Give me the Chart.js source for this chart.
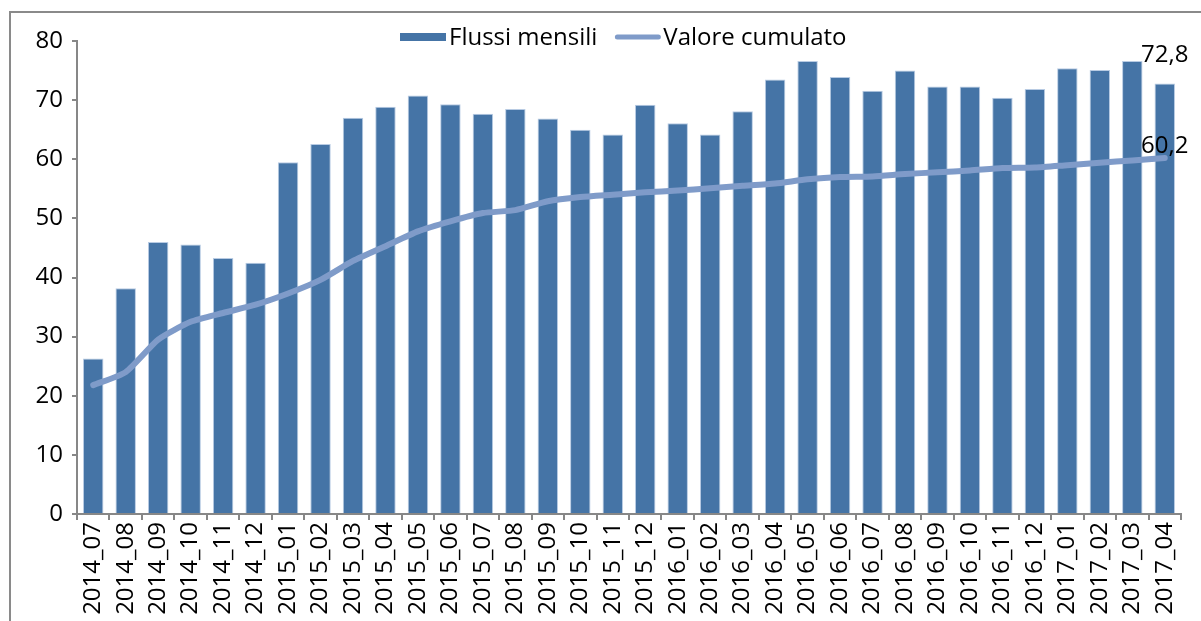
<!DOCTYPE html>
<html>
<head>
<meta charset="utf-8">
<script src="https://cdn.jsdelivr.net/npm/chart.js@4/dist/chart.umd.min.js"></script>
<style>
  html, body { margin: 0; padding: 0; background: #fff; overflow: hidden; }
  #wrap { position: relative; width: 1201px; height: 621px; }
  #frame { position: absolute; left: 9px; top: 11px; width: 1300px; height: 700px; border: 2px solid #8a8a8a; }
  canvas { position: absolute; left: 0; top: 0; }
</style>
</head>
<body>
<div id="wrap">
  <div id="frame"></div>
  <canvas id="chart" width="1201" height="621"></canvas>
</div>
<script>
// months shown on the x axis
const months = ['2014_07','2014_08','2014_09','2014_10','2014_11','2014_12',
  '2015_01','2015_02','2015_03','2015_04','2015_05','2015_06','2015_07','2015_08','2015_09','2015_10','2015_11','2015_12',
  '2016_01','2016_02','2016_03','2016_04','2016_05','2016_06','2016_07','2016_08','2016_09','2016_10','2016_11','2016_12',
  '2017_01','2017_02','2017_03','2017_04'];

const flussiMensili = [26.3, 38.2, 46.0, 45.6, 43.3, 42.5,
  59.5, 62.6, 67.0, 68.9, 70.8, 69.3, 67.7, 68.5, 66.9, 65.0, 64.2, 69.2,
  66.1, 64.2, 68.1, 73.5, 76.6, 73.9, 71.6, 75.0, 72.3, 72.3, 70.4, 71.9,
  75.4, 75.1, 76.6, 72.8];

const valoreCumulato = [21.8, 24.0, 29.5, 32.5, 34.0, 35.4,
  37.3, 39.6, 42.8, 45.3, 47.8, 49.5, 50.9, 51.4, 52.9, 53.6, 54.0, 54.4,
  54.7, 55.1, 55.5, 55.9, 56.6, 57.0, 57.1, 57.5, 57.8, 58.1, 58.5, 58.6,
  59.0, 59.4, 59.8, 60.2];

const yTicks = [0, 10, 20, 30, 40, 50, 60, 70, 80];

const FONT = '"Open Sans", "DejaVu Sans", sans-serif';
const axisGray = '#878787';
const barBlue = '#4574a6';
const lineBlue = '#7f9bc9';

// writes the last value of each series above its mark, Excel style
const lastValueLabels = {
  id: 'lastValueLabels',
  afterDatasetsDraw(chart) {
    const ctx = chart.ctx;
    ctx.save();
    ctx.font = '24px ' + FONT;
    ctx.fillStyle = '#000';
    ctx.textAlign = 'center';
    ctx.textBaseline = 'bottom';
    chart.data.datasets.forEach((ds, i) => {
      const meta = chart.getDatasetMeta(i);
      const last = meta.data[meta.data.length - 1];
      const v = ds.data[ds.data.length - 1];
      ctx.fillText(v.toFixed(1).replace('.', ','), last.x, last.y - (ds.type === 'line' ? 0 : 16));
    });
    ctx.restore();
  }
};

// legend drawn inside the plot, on top of it
const insideLegend = {
  id: 'insideLegend',
  afterDraw(chart) {
    const ctx = chart.ctx;
    ctx.save();
    ctx.font = '24px ' + FONT;
    ctx.fillStyle = '#000';
    ctx.textBaseline = 'middle';
    let x = 400;
    const y = 37;
    chart.data.datasets.forEach(ds => {
      if (ds.type === 'bar') {
        ctx.fillStyle = barBlue;
        ctx.fillRect(x, y - 4, 46, 8);
      } else {
        ctx.strokeStyle = lineBlue;
        ctx.lineWidth = 5;
        ctx.lineCap = 'round';
        ctx.beginPath();
        ctx.moveTo(x + 3, y);
        ctx.lineTo(x + 44, y);
        ctx.stroke();
      }
      x += 49;
      ctx.fillStyle = '#000';
      ctx.fillText(ds.label, x, y + 1);
      x += ctx.measureText(ds.label).width + 17;
    });
    ctx.restore();
  }
};

new Chart(document.getElementById('chart'), {
  data: {
    labels: months,
    datasets: [
      {
        type: 'bar',
        label: 'Flussi mensili',
        data: flussiMensili,
        backgroundColor: barBlue,
        borderColor: '#b8cbe3',
        borderWidth: 1,
        barPercentage: 0.63,
        categoryPercentage: 1,
        order: 2
      },
      {
        type: 'line',
        label: 'Valore cumulato',
        data: valoreCumulato,
        borderColor: lineBlue,
        backgroundColor: lineBlue,
        borderWidth: 6,
        borderCapStyle: 'round',
        borderJoinStyle: 'round',
        tension: 0.2,
        pointRadius: 0,
        order: 1
      }
    ]
  },
  options: {
    responsive: false,
    animation: false,
    layout: { padding: { top: 41, right: 20, left: 0, bottom: 0 } },
    plugins: {
      legend: { display: false },
      tooltip: { enabled: false }
    },
    scales: {
      x: {
        offset: true,
        grid: { display: true, offset: true, drawOnChartArea: false, drawTicks: true, tickLength: 6, color: axisGray, lineWidth: 2 },
        border: { color: axisGray, width: 2 },
        ticks: { color: '#000', font: { family: FONT, size: 24 }, minRotation: 90, maxRotation: 90, autoSkip: false, padding: 2 },
        afterFit(s) { s.height = 107; }
      },
      y: {
        min: 0,
        max: 80,
        afterBuildTicks(s) { s.ticks = yTicks.map(v => ({ value: v })); },
        grid: { display: true, drawOnChartArea: false, drawTicks: true, tickLength: 5, color: axisGray, lineWidth: 2 },
        border: { color: axisGray, width: 2 },
        ticks: { color: '#000', font: { family: FONT, size: 24 }, padding: 9 },
        afterFit(s) { s.width = 77; }
      }
    }
  },
  plugins: [lastValueLabels, insideLegend]
});
</script>
</body>
</html>
